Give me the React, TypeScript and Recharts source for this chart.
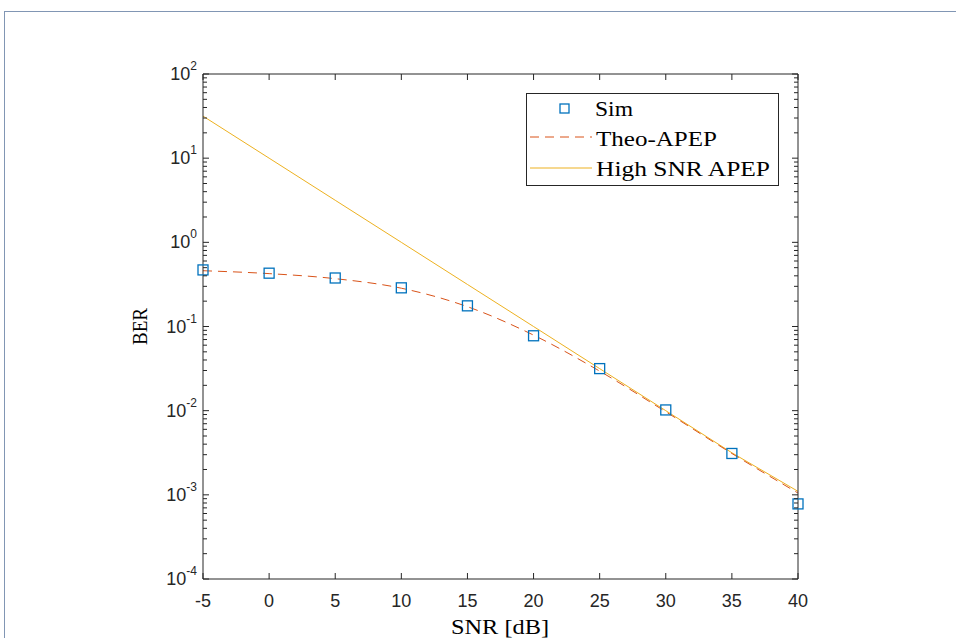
import { LineChart, Line, XAxis, YAxis } from 'recharts'

// SNR grid (dB) and BER curves
const SNR = [-5, 0, 5, 10, 15, 20, 25, 30, 35, 40]
const SIM_BER = [0.47, 0.43, 0.377, 0.288, 0.176, 0.0776, 0.0316, 0.0102, 0.0031, 0.00078]
const THEO_BER = [0.46, 0.425, 0.37, 0.285, 0.172, 0.079, 0.0295, 0.0097, 0.0031, 0.00105]
const HIGH_SNR_BER = [31.6, 10, 3.16, 1, 0.316, 0.1, 0.0316, 0.01, 0.00316, 0.0011]

const X_TICKS = [-5, 0, 5, 10, 15, 20, 25, 30, 35, 40]
const Y_MAJOR = [1e-4, 1e-3, 1e-2, 1e-1, 1, 10, 100]
const Y_MINOR_MULT = [2, 3, 4, 5, 6, 7, 8, 9]

const Y_TICKS = [
  ...Y_MAJOR,
  ...Y_MAJOR.slice(0, -1).flatMap((d) => Y_MINOR_MULT.map((m) => m * d)),
].sort((a, b) => a - b)

const data = SNR.map((s, i) => ({
  snr: s,
  sim: SIM_BER[i],
  theo: THEO_BER[i],
  high: HIGH_SNR_BER[i],
}))

const BLUE = '#0072BD'
const RED = '#D95319'
const YELLOW = '#EDB120'
const AXIS = '#262626'

// plot box edges
const PL = 203
const PR = 798
const PT = 74
const PB = 579

const SANS = '"Liberation Sans", Arial, sans-serif'
const SERIF = '"Liberation Serif", "DejaVu Serif", serif'

const isMajor = (v: number) => Math.abs(Math.log10(v) - Math.round(Math.log10(v))) < 1e-9

const LeftTick = ({ y, payload }: any) => {
  const v = payload.value
  const major = isMajor(v)
  return (
    <g>
      <line x1={PL} x2={PL + (major ? 6 : 4)} y1={y} y2={y} stroke={AXIS} strokeWidth={1} />
      {major && (
        <text x={197} y={y + 6} textAnchor="end" fontFamily={SANS} fontSize={18} fill={AXIS}>
          10
          <tspan fontSize={12} dy={-10}>{Math.round(Math.log10(v))}</tspan>
        </text>
      )}
    </g>
  )
}

const RightTick = ({ y, payload }: any) => {
  const major = isMajor(payload.value)
  return <line x1={PR} x2={PR - (major ? 6 : 4)} y1={y} y2={y} stroke={AXIS} strokeWidth={1} />
}

const BottomTick = ({ x, payload }: any) => (
  <g>
    <line x1={x} x2={x} y1={PB} y2={PB - 6} stroke={AXIS} strokeWidth={1} />
    <text x={x} y={607} textAnchor="middle" fontFamily={SANS} fontSize={18} fill={AXIS}>
      {payload.value}
    </text>
  </g>
)

const TopTick = ({ x }: any) => (
  <line x1={x} x2={x} y1={PT} y2={PT + 6} stroke={AXIS} strokeWidth={1} />
)

const SimDot = ({ cx, cy }: any) =>
  cx == null || cy == null ? null : (
    <rect x={cx - 5} y={cy - 5} width={10} height={10} fill="none" stroke={BLUE} strokeWidth={1.3} />
  )

const LegendBox = () => (
  <svg
    width={253}
    height={93}
    style={{ position: 'absolute', left: 526, top: 93, background: '#fff' }}
  >
    <rect x={0.5} y={0.5} width={252} height={92} fill="#fff" stroke={AXIS} strokeWidth={1} />
    <rect x={34} y={11} width={9} height={9} fill="none" stroke={BLUE} strokeWidth={1.3} />
    <line x1={4} x2={66} y1={44} y2={44} stroke={RED} strokeWidth={1} strokeDasharray="9 6" />
    <line x1={4} x2={66} y1={75} y2={75} stroke={YELLOW} strokeWidth={1} />
    <text x={69} y={23} fontFamily={SERIF} fontSize={21} textLength={38} lengthAdjust="spacingAndGlyphs">
      Sim
    </text>
    <text x={70} y={53} fontFamily={SERIF} fontSize={21} textLength={121} lengthAdjust="spacingAndGlyphs">
      Theo-APEP
    </text>
    <text x={70} y={83} fontFamily={SERIF} fontSize={21} textLength={174} lengthAdjust="spacingAndGlyphs">
      High SNR APEP
    </text>
  </svg>
)

export default function App() {
  return (
    <div
      style={{
        position: 'absolute',
        left: 0,
        top: 0,
        width: 956,
        height: 638,
        overflow: 'hidden',
        background: '#fff',
      }}
    >
      <div
        style={{
          position: 'absolute',
          left: 4,
          top: 11,
          width: 1000,
          height: 700,
          border: '1px solid #8196b4',
        }}
      />
      <div style={{ position: 'absolute', left: 0, top: 0 }}>
        <LineChart
          width={956}
          height={638}
          data={data}
          margin={{ top: PT - 1, right: 956 - PR - 1, bottom: 638 - PB - 30, left: PL - 60 }}
        >
          <XAxis
            dataKey="snr"
            type="number"
            domain={[-5, 40]}
            ticks={X_TICKS}
            interval={0}
            height={30}
            tickLine={false}
            axisLine={{ stroke: AXIS }}
            tick={<BottomTick />}
          />
          <XAxis
            xAxisId="top"
            orientation="top"
            dataKey="snr"
            type="number"
            domain={[-5, 40]}
            ticks={X_TICKS}
            interval={0}
            height={1}
            tickLine={false}
            axisLine={{ stroke: AXIS }}
            tick={<TopTick />}
          />
          <YAxis
            scale="log"
            type="number"
            domain={[1e-4, 100]}
            ticks={Y_TICKS}
            interval={0}
            width={60}
            tickLine={false}
            axisLine={{ stroke: AXIS }}
            tick={<LeftTick />}
          />
          <YAxis
            yAxisId="right"
            orientation="right"
            scale="log"
            type="number"
            domain={[1e-4, 100]}
            ticks={Y_TICKS}
            interval={0}
            width={1}
            tickLine={false}
            axisLine={{ stroke: AXIS }}
            tick={<RightTick />}
          />
          <Line
            dataKey="high"
            xAxisId="top"
            yAxisId="right"
            stroke="none"
            dot={false}
            legendType="none"
            isAnimationActive={false}
          />
          <Line
            dataKey="high"
            type="linear"
            stroke={YELLOW}
            strokeWidth={1}
            dot={false}
            isAnimationActive={false}
          />
          <Line
            dataKey="theo"
            type="monotone"
            stroke={RED}
            strokeWidth={1}
            strokeDasharray="9 6"
            dot={false}
            isAnimationActive={false}
          />
          <Line
            dataKey="sim"
            stroke="none"
            dot={<SimDot />}
            activeDot={false}
            isAnimationActive={false}
          />
          <text
            x={451}
            y={634}
            fontFamily={SERIF}
            fontSize={21}
            fill="#000"
            textLength={98}
            lengthAdjust="spacingAndGlyphs"
          >
            SNR [dB]
          </text>
          <text
            x={147}
            y={345}
            fontFamily={SERIF}
            fontSize={21}
            fill="#000"
            textLength={37}
            lengthAdjust="spacingAndGlyphs"
            transform="rotate(-90 147 345)"
          >
            BER
          </text>
        </LineChart>
      </div>
      <LegendBox />
    </div>
  )
}
